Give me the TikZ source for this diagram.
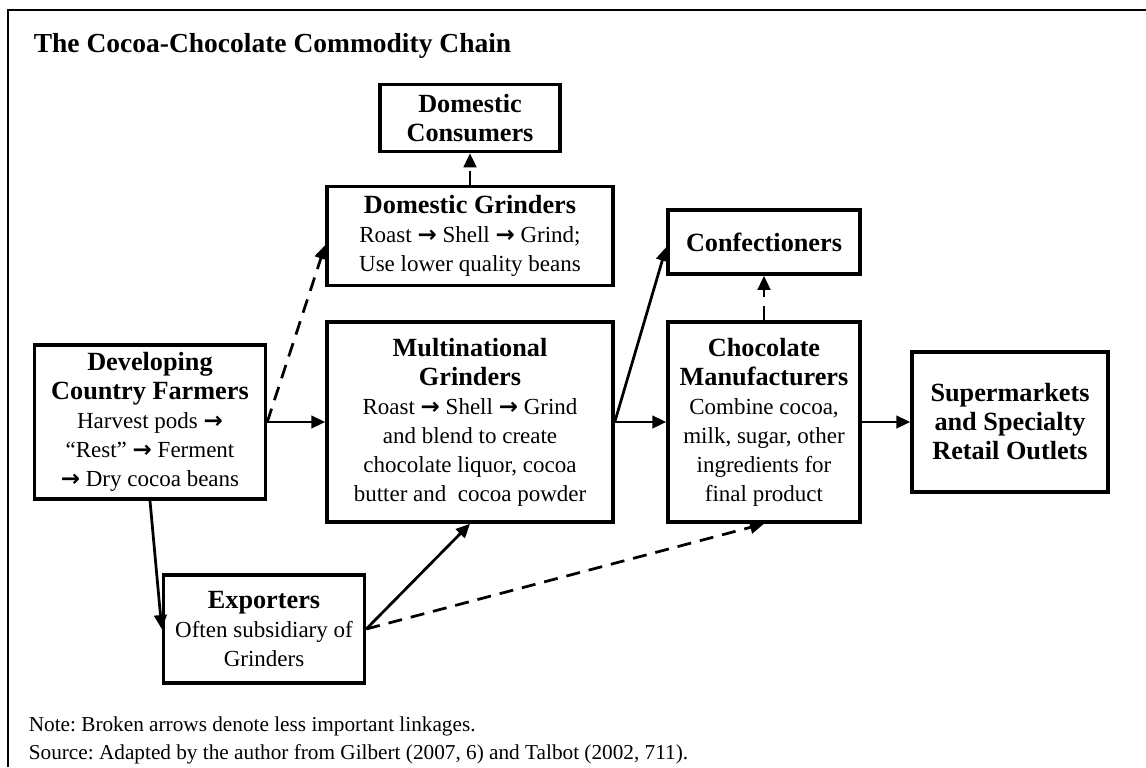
\documentclass[tikz,border=0pt]{standalone}
\usepackage{fontspec}
\setmainfont{Liberation Serif}
\newfontfamily\arrowfont{DejaVu Sans}
\usetikzlibrary{arrows.meta}
\frenchspacing

\newcommand{\stepto}{{\arrowfont\bfseries\char"2192}}
\newcommand{\hd}[1]{{\fontsize{10.5}{11.6}\selectfont\bfseries #1}}

\tikzset{
  stage/.style={draw, line width=1.4pt, align=center, inner sep=0pt,
    font=\fontsize{9.2}{11.6}\selectfont},
  flow/.style={line width=1.1pt, -{Triangle[length=5.6pt,width=5pt]}},
  weak/.style={flow, dash pattern=on 5.6pt off 3.6pt},
}

\begin{document}
\begin{tikzpicture}[x=0.4pt, y=-0.4pt]
    \useasboundingbox (0,0) rectangle (1146,767);
    \draw[line width=0.9pt] (8,767) -- (8,10) -- (1146,10);

    \node[anchor=base west, font=\fontsize{11}{14}\selectfont\bfseries] (title) at (25,52)
      {The Cocoa-Chocolate Commodity Chain};

    \node[stage, minimum width=72pt, minimum height=26.8pt] (domcons) at (470,118)
      {\hd{Domestic}\\\hd{Consumers}};
    \node[stage, minimum width=114.4pt, minimum height=39.6pt] (domgrind) at (470,236)
      {\hd{Domestic Grinders}\\Roast \stepto{} Shell \stepto{} Grind;\\Use lower quality beans};
    \node[stage, minimum width=76.8pt, minimum height=25.6pt] (confect) at (764,242)
      {\hd{Confectioners}};
    \node[stage, minimum width=92.4pt, minimum height=61.6pt] (farmers) at (150,422)
      {\hd{Developing}\\\hd{Country Farmers}\\Harvest pods \stepto\\“Rest” \stepto{} Ferment\\\stepto{} Dry cocoa beans};
    \node[stage, minimum width=114.4pt, minimum height=80pt] (multigrind) at (470,422)
      {\hd{Multinational}\\\hd{Grinders}\\Roast \stepto{} Shell \stepto{} Grind\\and blend to create\\chocolate liquor, cocoa\\butter and~ cocoa powder};
    \node[stage, minimum width=76.8pt, minimum height=80pt] (choco) at (764,422)
      {\hd{Chocolate}\\\hd{Manufacturers}\\Combine cocoa,\\milk, sugar, other\\ingredients for\\final product};
    \node[stage, minimum width=78.4pt, minimum height=56pt] (retail) at (1010,422)
      {\hd{Supermarkets}\\\hd{and Specialty}\\\hd{Retail Outlets}};
    \node[stage, minimum width=80.4pt, minimum height=43.2pt] (exporters) at (264,629)
      {\hd{Exporters}\\Often subsidiary of\\Grinders};

    % main chain
    \draw[flow] (farmers.east) -- (multigrind.west);
    \draw[flow] (multigrind.east) -- (choco.west);
    \draw[flow] (choco.east) -- (retail.west);
    \draw[flow] (farmers.south) -- (exporters.west);
    \draw[flow] (exporters.east) -- (multigrind.south);
    \draw[flow] (multigrind.east) -- ([yshift=-2pt]confect.west);

    % less important linkages
    \draw[weak] (farmers.east) -- ([yshift=-3.6pt]domgrind.west);
    \draw[weak] (domgrind.north) -- (domcons.south);
    \draw[weak] (choco.north) -- (confect.south);
    \draw[weak] (exporters.east) -- (choco.south);

    \node[anchor=base west, font=\fontsize{8.5}{10}\selectfont] (note) at (20,731)
      {Note: Broken arrows denote less important linkages.};
    \node[anchor=base west, font=\fontsize{8.5}{10}\selectfont] (source) at (20,759)
      {Source: Adapted by the author from Gilbert (2007, 6) and Talbot (2002, 711).};
\end{tikzpicture}
\end{document}
